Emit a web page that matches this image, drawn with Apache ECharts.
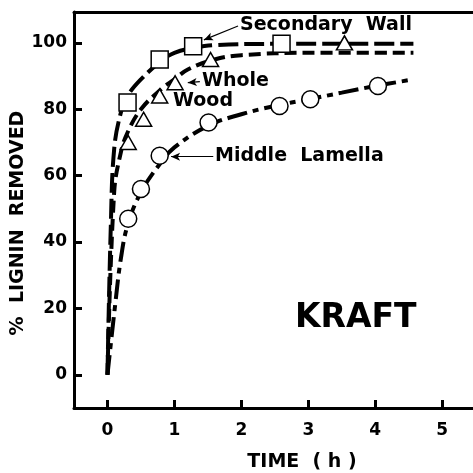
<!DOCTYPE html>
<html>
<head>
<meta charset="utf-8">
<script src="https://cdn.jsdelivr.net/npm/echarts@6/dist/echarts.min.js"></script>
<style>
  html, body { margin: 0; padding: 0; background: #fff; }
  #chart { width: 473px; height: 473px; }
</style>
</head>
<body>
<div id="chart"></div>
<script>
// tick values
const xTicks = [0, 1, 2, 3, 4, 5];
const yTicks = [0, 20, 40, 60, 80, 100];

// measured points [time h, % removed]
const secondaryWall = [[0.3, 82], [0.78, 95], [1.28, 99], [2.6, 99.7]];
const wholeWood = [[0.31, 70], [0.54, 77], [0.78, 84], [1.01, 88], [1.54, 95], [3.54, 100]];
const middleLamella = [[0.31, 47], [0.5, 56], [0.78, 66], [1.51, 76], [2.57, 81], [3.03, 83], [4.04, 87]];

// fitted curves
const swCurve = [[0, 0], [0.05, 45], [0.1, 68], [0.2, 79], [0.3, 84], [0.5, 89], [0.8, 94.5], [1.0, 97],
  [1.3, 98.5], [1.6, 99.3], [2.5, 99.7], [4.57, 99.7]];
const wwCurve = [[0, 0], [0.1, 55], [0.2, 67], [0.3, 73], [0.5, 80], [0.8, 86], [1.0, 89], [1.2, 92],
  [1.6, 95], [2, 96.3], [3, 97], [4.57, 97]];
const mlCurve = [[0, 0], [0.12, 22], [0.2, 35], [0.3, 45], [0.5, 55], [0.8, 64], [1.0, 68.5], [1.5, 75],
  [2, 78.5], [2.5, 81], [3, 83], [3.5, 85], [4, 87], [4.57, 89]];

const FONT = "DejaVu Sans";
const chart = echarts.init(document.getElementById("chart"), null, { renderer: "canvas" });

const markerStyle = { color: "#fff", borderColor: "#000", borderWidth: 1.5, opacity: 1 };
const arrow = (from, to) => [
  { coord: from, symbol: "none" },
  { coord: to, symbol: "arrow", symbolSize: [6, 9] },
];

chart.setOption({
  animation: false,
  backgroundColor: "#fff",
  grid: { left: 74, right: 0, top: 12, bottom: 65 },
  xAxis: [
    {
      type: "value",
      min: -0.5,
      max: 5.46,
      axisLine: { onZero: false, lineStyle: { color: "#000", width: 3 } },
      axisTick: { inside: true, length: 8, lineStyle: { color: "#000", width: 3 }, customValues: xTicks },
      axisLabel: { customValues: xTicks, color: "#000", fontFamily: FONT, fontWeight: "bold", fontSize: 17, margin: 14 },
      splitLine: { show: false },
    },
    {
      type: "value",
      position: "top",
      min: -0.5,
      max: 5.46,
      axisLine: { show: true, onZero: false, lineStyle: { color: "#000", width: 3 } },
      axisTick: { show: false },
      axisLabel: { show: false },
      splitLine: { show: false },
    },
  ],
  yAxis: {
    type: "value",
    min: -10,
    max: 109.3,
    axisLine: { show: true, onZero: false, lineStyle: { color: "#000", width: 3 } },
    axisTick: { show: true, inside: true, length: 8, lineStyle: { color: "#000", width: 3 }, customValues: yTicks },
    axisLabel: { customValues: yTicks, color: "#000", fontFamily: FONT, fontWeight: "bold", fontSize: 17, margin: 7 },
    splitLine: { show: false },
  },
  series: [
    {
      name: "Secondary Wall fit",
      type: "line",
      data: swCurve,
      smooth: 0.4,
      showSymbol: false,
      lineStyle: { color: "#000", width: 4, type: [20, 6] },
      z: 2,
      markLine: {
        silent: true,
        lineStyle: { color: "#000", width: 1.2, type: "solid" },
        label: { show: false },
        data: [
          arrow([1.95, 105.1], [1.44, 100.9]),
          arrow([1.38, 88.3], [1.2, 88]),
          arrow([1.58, 65.7], [0.95, 65.7]),
        ],
      },
    },
    {
      name: "Whole Wood fit",
      type: "line",
      data: wwCurve,
      smooth: 0.4,
      showSymbol: false,
      lineStyle: { color: "#000", width: 4, type: [12, 6] },
      z: 2,
    },
    {
      name: "Middle Lamella fit",
      type: "line",
      data: mlCurve,
      smooth: 0.4,
      showSymbol: false,
      lineStyle: { color: "#000", width: 4, type: [20, 6, 6, 6] },
      z: 2,
    },
    {
      name: "Secondary Wall",
      type: "scatter",
      data: secondaryWall,
      symbol: "rect",
      symbolSize: 17,
      itemStyle: markerStyle,
      z: 5,
    },
    {
      name: "Whole Wood",
      type: "scatter",
      data: wholeWood,
      symbol: "triangle",
      symbolSize: [16, 14],
      itemStyle: markerStyle,
      z: 5,
    },
    {
      name: "Middle Lamella",
      type: "scatter",
      data: middleLamella,
      symbol: "circle",
      symbolSize: 17,
      itemStyle: markerStyle,
      z: 5,
    },
  ],
  graphic: [
    { type: "text", left: 240, top: 16, style: { text: "Secondary  Wall", font: `bold 19px "${FONT}"`, fill: "#000" } },
    { type: "text", left: 202, top: 72, style: { text: "Whole", font: `bold 19px "${FONT}"`, fill: "#000" } },
    { type: "text", left: 173, top: 92, style: { text: "Wood", font: `bold 19px "${FONT}"`, fill: "#000" } },
    { type: "text", left: 215, top: 147, style: { text: "Middle  Lamella", font: `bold 19px "${FONT}"`, fill: "#000" } },
    { type: "text", left: 295, top: 302, style: { text: "KRAFT", font: `bold 33px "${FONT}"`, fill: "#000" } },
    {
      type: "text",
      x: 302,
      y: 462,
      style: { text: "TIME  ( h )", font: `bold 19px "${FONT}"`, fill: "#000", align: "center", verticalAlign: "middle" },
    },
    {
      type: "text",
      x: 18,
      y: 223,
      rotation: Math.PI / 2,
      style: { text: "%  LIGNIN  REMOVED", font: `bold 19px "${FONT}"`, fill: "#000", align: "center", verticalAlign: "middle" },
    },
  ],
});
</script>
</body>
</html>
